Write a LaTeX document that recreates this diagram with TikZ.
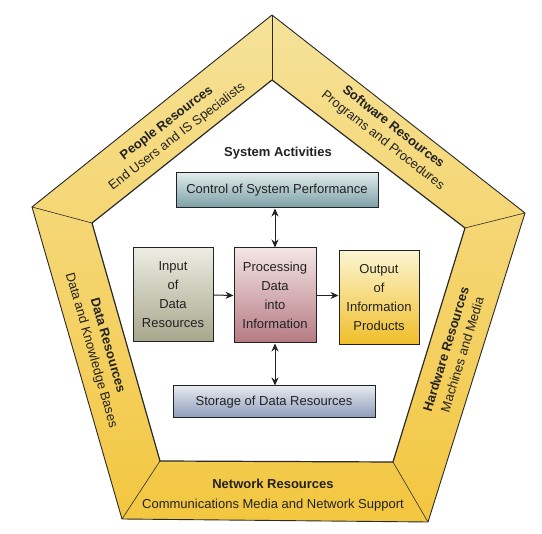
\documentclass[tikz,border=0pt]{standalone}
\usepackage{fontspec}
\setmainfont{Liberation Sans}
\usetikzlibrary{arrows.meta}

\definecolor{inkc}{HTML}{222222}
\definecolor{bandedge}{HTML}{2A2A2A}
\definecolor{bandpale}{HTML}{F7F0D0}
\definecolor{bandlight}{HTML}{F5E6A8}
\definecolor{bandsoft}{HTML}{F5DA80}
\definecolor{bandmid}{HTML}{F4D060}
\definecolor{bandgold}{HTML}{F2C12D}
\definecolor{ctrltop}{HTML}{DFEBEC}
\definecolor{ctrlbot}{HTML}{7A9FA5}
\definecolor{intop}{HTML}{ECECE2}
\definecolor{inbot}{HTML}{A6A68C}
\definecolor{proctop}{HTML}{F4E5E5}
\definecolor{procbot}{HTML}{B57A82}
\definecolor{outtop}{HTML}{FCF5D2}
\definecolor{outbot}{HTML}{F0BE28}
\definecolor{storetop}{HTML}{E6E9EF}
\definecolor{storebot}{HTML}{8C9BBA}

% vertical shading of the resource band: gold at the bottom, pale cream at the top
\pgfdeclareverticalshading{bandshade}{100bp}{%
  color(0bp)=(bandgold); color(16bp)=(bandgold); color(42bp)=(bandmid);
  color(62bp)=(bandsoft); color(82bp)=(bandlight); color(100bp)=(bandpale)}

\tikzset{
  bandtext/.style={text=inkc, align=center, font=\fontsize{13}{17}\selectfont},
  actbox/.style={draw=inkc, line width=1pt, text=inkc, align=center,
    font=\fontsize{13}{19}\selectfont, inner sep=0pt},
  flow/.style={line width=1pt, draw=inkc, -{Stealth[length=8pt,width=7pt]}},
  flowboth/.style={line width=1pt, draw=inkc,
    {Stealth[length=8pt,width=7pt]}-{Stealth[length=8pt,width=7pt]}},
  divider/.style={draw=bandedge, line width=0.6pt}
}

\begin{document}
\begin{tikzpicture}[x=1pt, y=-1pt]
  \useasboundingbox (0,0) rectangle (542,534);
  \fill[white] (0,0) rectangle (542,534);

  % outer and inner corners of the resource band
  \coordinate (oT) at (272,15);
  \coordinate (oL) at (32,207);
  \coordinate (oR) at (525,213);
  \coordinate (oBL) at (122,519);
  \coordinate (oBR) at (428,522);
  \coordinate (iT) at (272,80);
  \coordinate (iL) at (92,223);
  \coordinate (iR) at (465,228);
  \coordinate (iBL) at (160,461);
  \coordinate (iBR) at (393,462);

  % the band itself
  \shade[shading=bandshade, even odd rule]
    (oT) -- (oR) -- (oBR) -- (oBL) -- (oL) -- cycle
    (iT) -- (iR) -- (iBR) -- (iBL) -- (iL) -- cycle;
  \draw[draw=bandedge, line width=0.9pt, line join=round]
    (oT) -- (oR) -- (oBR) -- (oBL) -- (oL) -- cycle;
  \draw[draw=bandedge, line width=1.2pt, line join=round]
    (iT) -- (iR) -- (iBR) -- (iBL) -- (iL) -- cycle;
  \draw[divider] (oT) -- (iT);
  \draw[divider] (oL) -- (iL);
  \draw[divider] (oR) -- (iR);
  \draw[divider] (oBL) -- (iBL);
  \draw[divider] (oBR) -- (iBR);

  % band labels
  \node[bandtext, rotate=37.5] (people) at (172,130)
    {\textbf{People Resources}\\End Users and IS Specialists};
  \node[bandtext, rotate=-38] (software) at (388,134)
    {\textbf{Software Resources}\\Programs and Procedures};
  \node[bandtext, rotate=-74] (data) at (99,348)
    {\textbf{Data Resources}\\Data and Knowledge Bases};
  \node[bandtext, rotate=73] (hardware) at (454,352)
    {\textbf{Hardware Resources}\\Machines and Media};
  \node[bandtext, font=\fontsize{13}{20}\selectfont] (network) at (273,495)
    {\textbf{Network Resources}\\Communications Media and Network Support};

  % system activities
  \node[text=inkc, font=\bfseries\fontsize{13}{16}\selectfont] (title) at (278,153) {System Activities};

  \node[actbox, minimum width=202pt, minimum height=35pt,
        top color=ctrltop, bottom color=ctrlbot]
    (ctrl) at (277,190.5) {Control of System Performance};
  \node[actbox, minimum width=80pt, minimum height=94pt,
        top color=intop, bottom color=inbot]
    (input) at (173,295) {Input\\of\\Data\\Resources};
  \node[actbox, minimum width=82pt, minimum height=95pt,
        top color=proctop, bottom color=procbot]
    (proc) at (275,295.5) {Processing\\Data\\into\\Information};
  \node[actbox, minimum width=80pt, minimum height=94pt,
        top color=outtop, bottom color=outbot]
    (output) at (379,298) {Output\\of\\Information\\Products};
  \node[actbox, minimum width=202pt, minimum height=32pt,
        top color=storetop, bottom color=storebot]
    (store) at (274,402) {Storage of Data Resources};

  % connectors
  \draw[flowboth] (proc.north |- ctrl.south) -- (proc.north);
  \draw[flowboth] (proc.south) -- (proc.south |- store.north);
  \draw[flow] (input.east) -- (proc.west);
  \draw[flow] (proc.east) -- (proc.east -| output.west);
\end{tikzpicture}
\end{document}
